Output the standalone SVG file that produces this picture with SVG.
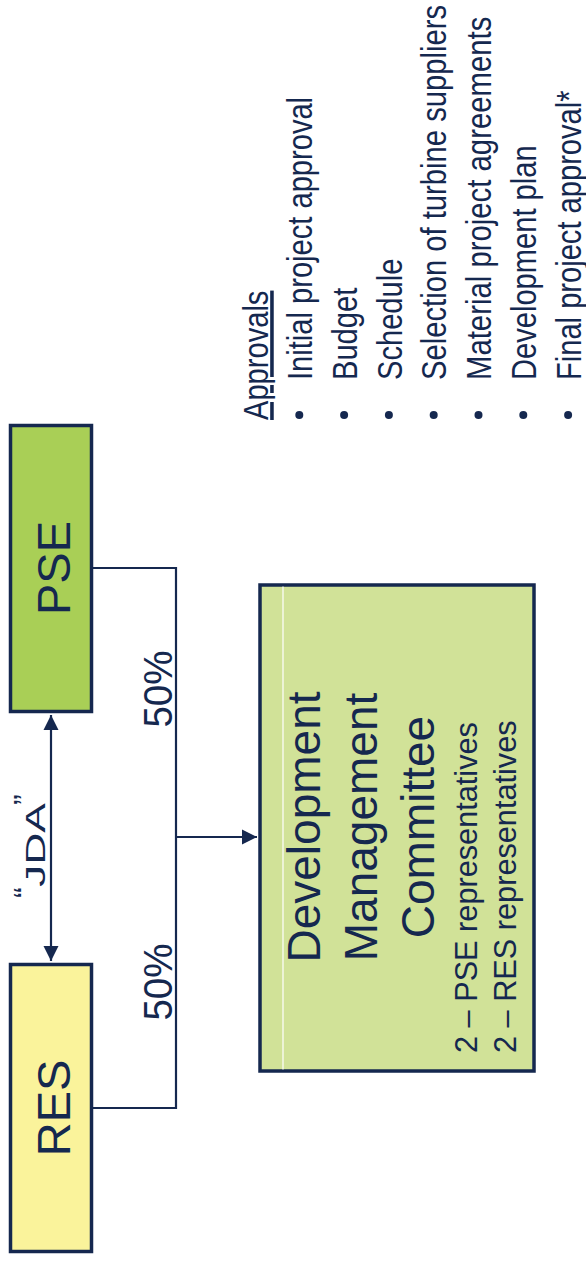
<svg xmlns="http://www.w3.org/2000/svg" width="586" height="1261" viewBox="0 0 586 1261">
<style>
.t{font-family:"Liberation Sans",Arial,Helvetica,sans-serif;fill:#15284F}
.box{stroke:#15284F;stroke-width:3.5}
.c{stroke:#15284F;stroke-width:2.2;fill:none}
.li{font-size:35.5px}
</style>
<defs>
<marker id="ah" viewBox="0 0 10 10" refX="10" refY="5" markerWidth="15" markerHeight="16" markerUnits="userSpaceOnUse" orient="auto-start-reverse">
<path d="M0,0 L10,5 L0,10 Z" fill="#15284F"/>
</marker>
</defs>
<rect width="586" height="1261" fill="#FFFFFF"/>

<g id="connectors">
<line class="c" x1="51" y1="715" x2="51" y2="961" marker-start="url(#ah)" marker-end="url(#ah)"/>
<path class="c" d="M93,568 H176 V837"/>
<path class="c" d="M93,1108 H176 V837"/>
<line class="c" x1="176" y1="837" x2="257" y2="837" marker-end="url(#ah)"/>
<text class="t" transform="translate(45,845) rotate(-90)" font-size="28"><tspan x="-53" y="-9" font-size="32">“</tspan><tspan x="-42" y="0" textLength="84" lengthAdjust="spacingAndGlyphs">JDA</tspan><tspan x="40" y="-9" font-size="32">”</tspan></text>
<text class="t" transform="translate(172,689) rotate(-90) scale(0.94,1)" font-size="41" text-anchor="middle">50%</text>
<text class="t" transform="translate(172,982) rotate(-90) scale(0.94,1)" font-size="41" text-anchor="middle">50%</text>
</g>

<g id="PSE">
<rect class="box" x="10.5" y="425.5" width="81" height="286" fill="#A9CF56"/>
<text class="t" transform="translate(70,568) rotate(-90)" font-size="47" text-anchor="middle">PSE</text>
</g>

<g id="RES">
<rect class="box" x="10.5" y="964.5" width="81" height="287" fill="#FAF39B"/>
<text class="t" transform="translate(70,1108) rotate(-90)" font-size="47" text-anchor="middle">RES</text>
</g>

<g id="DMC">
<rect class="box" x="260" y="585" width="274" height="486" fill="#D1E298"/>
<line x1="283" y1="586.5" x2="283" y2="1069.5" stroke="#FFFFFF" stroke-width="1.2"/>
<text class="t" transform="translate(320,827) rotate(-90)" font-size="46" text-anchor="middle">Development</text>
<text class="t" transform="translate(377,827) rotate(-90)" font-size="46" text-anchor="middle">Management</text>
<text class="t" transform="translate(434,827) rotate(-90)" font-size="46" text-anchor="middle">Committee</text>
<text class="t" transform="translate(477,1053) rotate(-90)" font-size="30.7">2 – PSE representatives</text>
<text class="t" transform="translate(516,1053) rotate(-90)" font-size="30.7">2 – RES representatives</text>
</g>

<g id="approvals">
<text class="t li" transform="translate(268,420) rotate(-90) scale(0.82,1)" text-decoration="underline">Approvals</text>
<g fill="#15284F">
<circle cx="299.3" cy="415" r="4"/>
<circle cx="344.1" cy="415" r="4"/>
<circle cx="388.9" cy="415" r="4"/>
<circle cx="433.7" cy="415" r="4"/>
<circle cx="478.5" cy="415" r="4"/>
<circle cx="523.3" cy="415" r="4"/>
<circle cx="568.1" cy="415" r="4"/>
</g>
<text class="t li" transform="translate(312,380) rotate(-90) scale(0.82,1)">Initial project approval</text>
<text class="t li" transform="translate(356.8,380) rotate(-90) scale(0.82,1)">Budget</text>
<text class="t li" transform="translate(401.6,380) rotate(-90) scale(0.82,1)">Schedule</text>
<text class="t li" transform="translate(446.4,380) rotate(-90) scale(0.823,1)">Selection of turbine suppliers</text>
<text class="t li" transform="translate(491.2,380) rotate(-90) scale(0.826,1)">Material project agreements</text>
<text class="t li" transform="translate(536,380) rotate(-90) scale(0.82,1)">Development plan</text>
<text class="t li" transform="translate(580.8,380) rotate(-90) scale(0.82,1)">Final project approval*</text>
</g>
</svg>
